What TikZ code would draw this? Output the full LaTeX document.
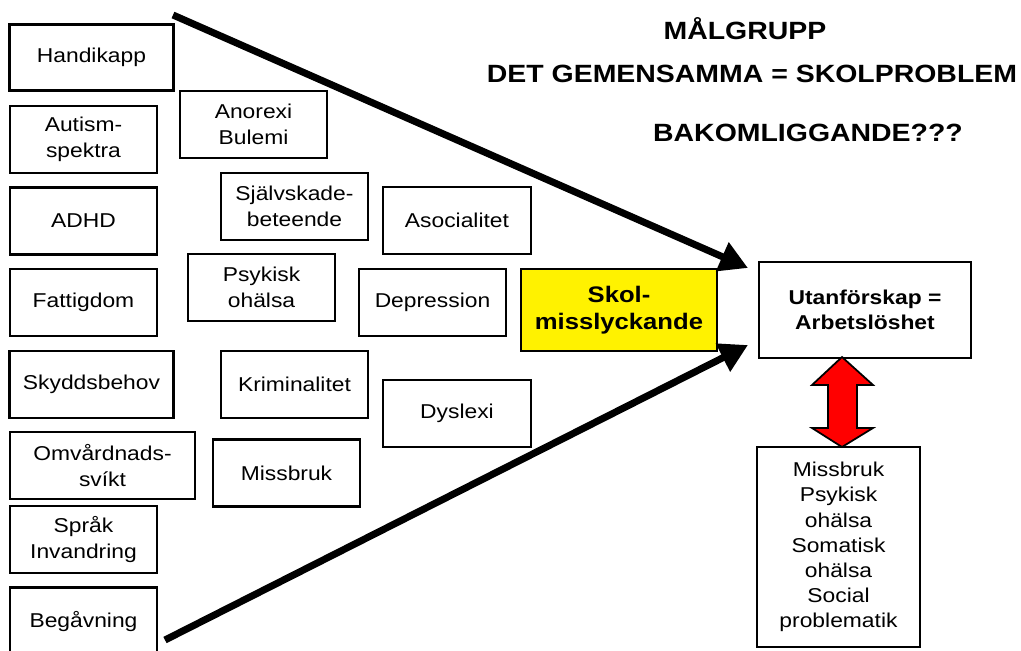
\documentclass[tikz,border=0pt]{standalone}
\usepackage{fontspec}
\setmainfont{Liberation Sans}[FakeStretch=1.14]
\usetikzlibrary{arrows.meta}

\tikzset{
  faktor/.style={draw=black, line width=1.3pt, inner sep=0pt, outer sep=0pt,
    minimum width=2.94cm, minimum height=1.34cm, align=center,
    font=\fontsize{11.4pt}{14.8pt}\selectfont},
  rubrik/.style={font=\fontsize{14.2pt}{17pt}\selectfont\bfseries},
  pil/.style={line width=4pt, -{Triangle[length=16pt,width=17pt]}}
}

\begin{document}
\begin{tikzpicture}[x=0.02cm, y=-0.02cm]
\useasboundingbox (0,0) rectangle (1021,650);

% titles
\node[rubrik] (malgrupp) at (745,29) {MÅLGRUPP};
\node[rubrik] (gemensamma) at (752,74) {DET GEMENSAMMA = SKOLPROBLEM};
\node[rubrik] (bakom) at (808,133) {BAKOMLIGGANDE???};

% left column
\node[faktor, minimum width=3.28cm, minimum height=1.32cm] (handikapp) at (91.5,57.5) {Handikapp};
\node[faktor] (autism) at (83.5,139.5) {Autism-\\spektra};
\node[faktor] (adhd) at (83.5,221) {ADHD};
\node[faktor] (fattigdom) at (83.5,302.5) {Fattigdom};
\node[faktor, minimum width=3.28cm] (skydd) at (91.5,384.5) {Skyddsbehov};
\node[faktor, minimum width=3.7cm] (omvard) at (102.5,465.5) {Omvårdnads-\\svíkt};
\node[faktor] (sprak) at (83.5,539.5) {Språk\\Invandring};
\node[faktor] (begavning) at (83.5,621) {Begåvning};

% middle column
\node[faktor] (anorexi) at (253.5,124.5) {Anorexi\\Bulemi};
\node[faktor] (sjalvskada) at (294.5,206.5) {Självskade-\\beteende};
\node[faktor] (psykisk) at (261.5,287.5) {Psykisk\\ohälsa};
\node[faktor] (krim) at (294.5,384.5) {Kriminalitet};
\node[faktor] (missbruk) at (286.5,473) {Missbruk};

% right column
\node[faktor, minimum width=2.96cm] (asocial) at (457,220.5) {Asocialitet};
\node[faktor] (depression) at (432.5,302.5) {Depression};
\node[faktor, minimum width=2.96cm] (dyslexi) at (457,413.5) {Dyslexi};

% centre and result
\node[faktor, fill=yellow, minimum width=3.92cm, minimum height=1.64cm,
  font=\fontsize{12.8pt}{15.4pt}\selectfont\bfseries] (skol) at (619,310) {Skol-\\misslyckande};
\node[faktor, minimum width=4.24cm, minimum height=1.92cm,
  font=\fontsize{11.4pt}{14.6pt}\selectfont\bfseries] (utan) at (865,310) {Utanförskap =\\Arbetslöshet};
\node[faktor, minimum width=3.26cm, minimum height=4cm,
  font=\fontsize{11.4pt}{14.3pt}\selectfont] (foljder) at (838.5,547)
  {Missbruk\\Psykisk\\ohälsa\\Somatisk\\ohälsa\\Social\\problematik};

% funnel arrows
\coordinate (topstart) at (173,15);
\coordinate (botstart) at (165,640);
\coordinate (toptip) at (748,268);
\coordinate (bottip) at (748,345);
\draw[pil] (topstart) -- (toptip);
\draw[pil] (botstart) -- (bottip);

% red double arrow
\filldraw[fill=red, draw=black, line width=1pt, line join=miter]
  (842,357) -- (873,385) -- (857,385) -- (857,428) -- (873,428) -- (842,447)
  -- (812,428) -- (828,428) -- (828,385) -- (812,385) -- cycle;
\end{tikzpicture}
\end{document}
